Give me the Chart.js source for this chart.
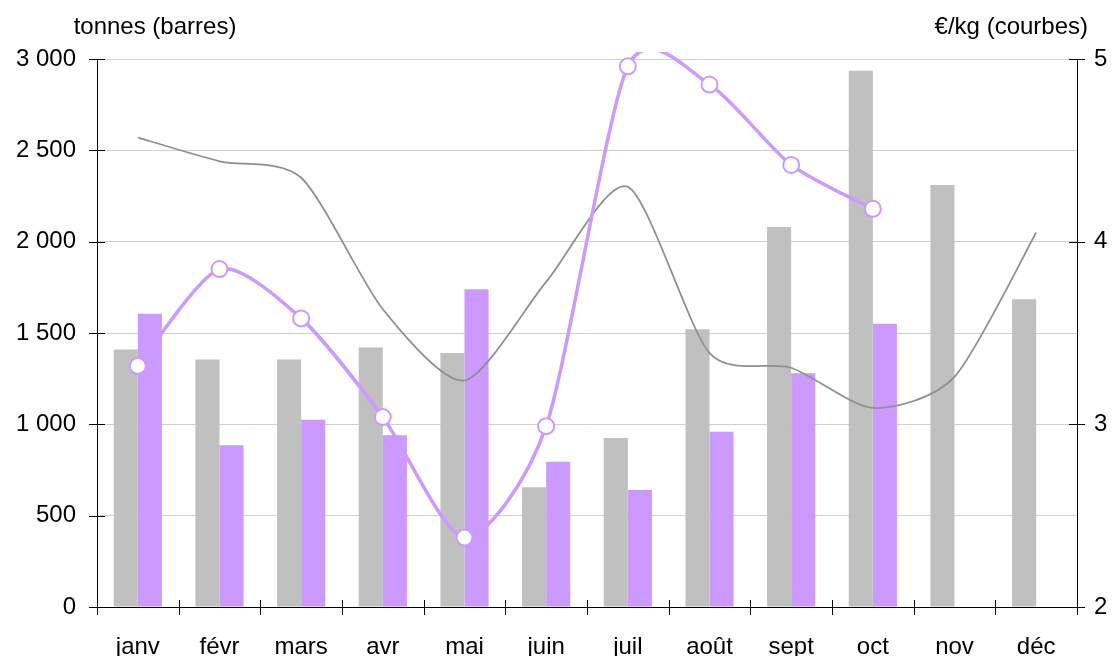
<!DOCTYPE html>
<html>
<head>
<meta charset="utf-8">
<script src="https://cdn.jsdelivr.net/npm/chart.js@4/dist/chart.umd.min.js"></script>
<style>
  html, body { margin: 0; padding: 0; background: #fff; }
  #wrap { width: 1115px; height: 656px; position: relative; }
</style>
</head>
<body>
<div id="wrap"><canvas id="chart"></canvas></div>
<script>
// Data
const months = ['janv', 'févr', 'mars', 'avr', 'mai', 'juin', 'juil', 'août', 'sept', 'oct', 'nov', 'déc'];
const tonnesGris = [1410, 1355, 1355, 1420, 1390, 655, 925, 1520, 2080, 2935, 2310, 1685];
const tonnesViolet = [1605, 885, 1025, 940, 1740, 795, 640, 960, 1280, 1550, null, null];
const prixGris = [4.57, 4.44, 4.35, 3.63, 3.24, 3.78, 4.30, 3.39, 3.31, 3.09, 3.26, 4.05];
const prixViolet = [3.32, 3.85, 3.58, 3.04, 2.38, 2.99, 4.96, 4.86, 4.42, 4.18, null, null];
const leftTitle = 'tonnes (barres)';
const rightTitle = '€/kg (courbes)';

const FONT = 'Liberation Sans, Arial, sans-serif';
const GRAY = '#c0c0c0';
const VIOLET = '#cc99ff';
const SMOOTH = 1 / 8; // control arm = SMOOTH * (next - prev)

// thousands with a plain space: 3 000
function fmt(v) {
  return String(v).replace(/\B(?=(\d{3})+(?!\d))/g, ' ');
}

// Excel-ish smoothing: uniform control arms from the neighbours
const excelSmooth = {
  id: 'excelSmooth',
  beforeDatasetDraw(chart, args) {
    const meta = args.meta;
    if (meta.type !== 'line') return;
    const pts = meta.data;
    const ok = p => p && !p.skip;
    for (let i = 0; i < pts.length; i++) {
      const p = pts[i];
      if (!ok(p)) continue;
      const prev = ok(pts[i - 1]) ? pts[i - 1] : p;
      const next = ok(pts[i + 1]) ? pts[i + 1] : p;
      const dx = (next.x - prev.x) * SMOOTH, dy = (next.y - prev.y) * SMOOTH;
      p.cp1x = p.x - dx; p.cp1y = p.y - dy;
      p.cp2x = p.x + dx; p.cp2y = p.y + dy;
    }
    meta.dataset._pointsUpdated = true;
  }
};

// axis titles + crossing tick marks like the original
const decor = {
  id: 'decor',
  afterDraw(chart) {
    const ctx = chart.ctx;
    const x = chart.scales.x, y = chart.scales.y, y2 = chart.scales.y2;
    ctx.save();
    ctx.fillStyle = '#000';
    ctx.font = '24px ' + FONT;
    ctx.textBaseline = 'middle';
    ctx.textAlign = 'center';
    ctx.fillText(leftTitle, 155, 27);
    ctx.textAlign = 'right';
    ctx.fillText(rightTitle, 1088, 27);

    ctx.strokeStyle = '#000';
    ctx.lineWidth = 1;
    ctx.beginPath();
    const step = (x.right - x.left) / months.length;
    for (let i = 0; i <= months.length; i++) {
      const px = Math.round(x.left + i * step) + 0.5;
      ctx.moveTo(px, x.top - 7);
      ctx.lineTo(px, x.top + 8);
    }
    y.ticks.forEach(t => {
      const py = Math.round(y.getPixelForValue(t.value)) + 0.5;
      ctx.moveTo(y.right - 8, py);
      ctx.lineTo(y.right + 8, py);
    });
    y2.ticks.forEach(t => {
      const py = Math.round(y2.getPixelForValue(t.value)) + 0.5;
      ctx.moveTo(y2.left - 8, py);
      ctx.lineTo(y2.left + 8, py);
    });
    ctx.stroke();
    ctx.restore();
  }
};

new Chart(document.getElementById('chart'), {
  type: 'bar',
  data: {
    labels: months,
    datasets: [
      {
        type: 'line', data: prixViolet, yAxisID: 'y2', order: 0,
        borderColor: VIOLET, borderWidth: 3.5, tension: 0.3,
        pointRadius: 8, pointBorderWidth: 2, pointBackgroundColor: '#fff', pointBorderColor: VIOLET,
        clip: { left: false, right: false, bottom: false, top: 7 }
      },
      {
        type: 'line', data: prixGris, yAxisID: 'y2', order: 1,
        borderColor: '#8f8f8f', borderWidth: 1.75, tension: 0.3, pointRadius: 0
      },
      { data: tonnesGris, backgroundColor: GRAY, yAxisID: 'y', order: 2, categoryPercentage: 0.59, barPercentage: 1 },
      { data: tonnesViolet, backgroundColor: VIOLET, yAxisID: 'y', order: 3, categoryPercentage: 0.59, barPercentage: 1 }
    ]
  },
  options: {
    responsive: true,
    maintainAspectRatio: false,
    animation: false,
    events: [],
    layout: { padding: { top: 59, left: 0, right: 0, bottom: 0 } },
    elements: { line: { capBezierPoints: false } },
    plugins: { legend: { display: false }, tooltip: { enabled: false } },
    scales: {
      x: {
        offset: true,
        grid: { display: true, offset: true, drawOnChartArea: false, drawTicks: false },
        border: { display: true, color: '#000', width: 1 },
        ticks: { color: '#000', font: { family: FONT, size: 24 }, padding: 26, maxRotation: 0, autoSkip: false },
        afterFit(s) { s.height = 49; }
      },
      y: {
        position: 'left', min: 0, max: 3000,
        grid: { color: '#d0d0d0', drawTicks: false },
        border: { display: true, color: '#000', width: 1 },
        ticks: { stepSize: 500, color: '#000', font: { family: FONT, size: 24 }, padding: 21, callback: v => fmt(v) },
        afterFit(s) { s.width = 97; }
      },
      y2: {
        position: 'right', min: 2, max: 5,
        grid: { drawOnChartArea: false, drawTicks: false },
        border: { display: true, color: '#000', width: 1 },
        ticks: { stepSize: 1, color: '#000', font: { family: FONT, size: 24 }, padding: 17 },
        afterFit(s) { s.width = 38; }
      }
    }
  },
  plugins: [excelSmooth, decor]
});
</script>
</body>
</html>
